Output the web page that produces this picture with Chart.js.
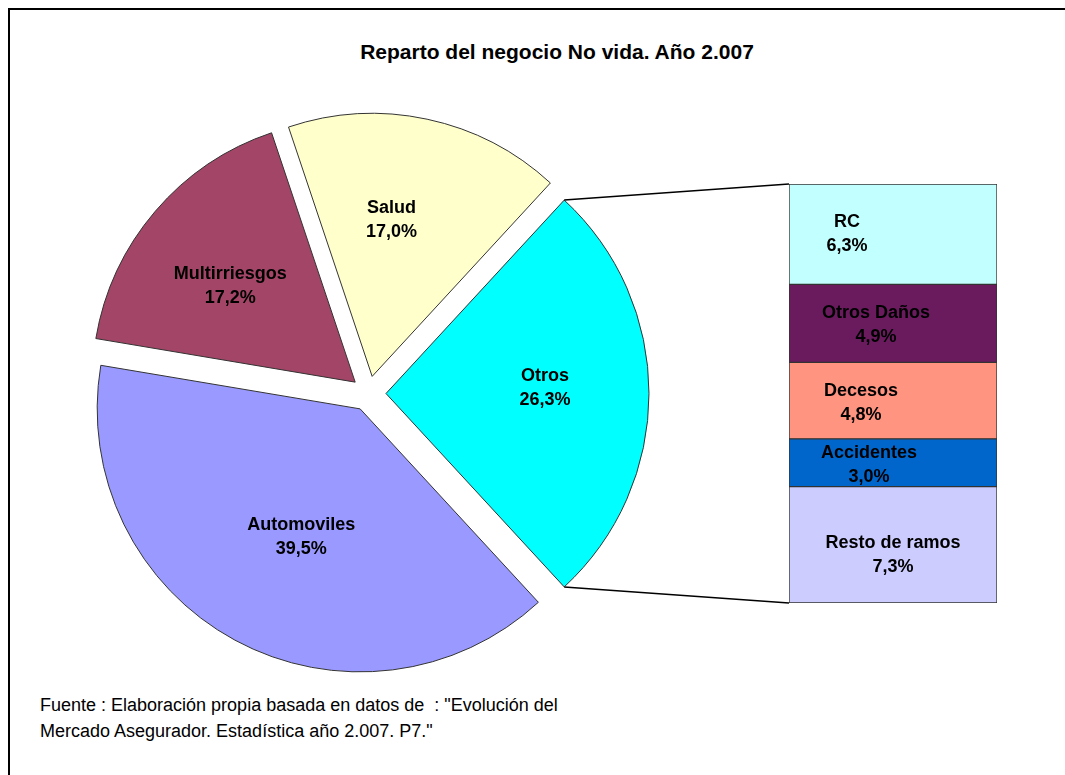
<!DOCTYPE html>
<html>
<head>
<meta charset="utf-8">
<script src="https://cdn.jsdelivr.net/npm/chart.js@4.4.1/dist/chart.umd.min.js"></script>
<style>
  html, body { margin:0; padding:0; background:#fff; width:1065px; height:775px; overflow:hidden; }
  #frame { position:absolute; left:8px; top:8px; width:1120px; height:820px; border-left:2px solid #000; border-top:2px solid #000; }
  #title { position:absolute; left:0; width:1114px; top:40px; text-align:center; font:bold 21px "Liberation Sans", Arial, sans-serif; color:#000; }
  #note { position:absolute; left:40px; top:692px; font:18px "Liberation Sans", Arial, sans-serif; line-height:26px; color:#000; white-space:pre; }
  canvas { position:absolute; left:0; top:0; }
</style>
</head>
<body>
<div id="frame"></div>
<div id="title">Reparto del negocio No vida. Año 2.007</div>
<div id="note">Fuente : Elaboración propia basada en datos de  : "Evolución del
Mercado Asegurador. Estadística año 2.007. P7."</div>
<canvas id="pie" width="1065" height="775"></canvas>
<canvas id="bar" width="1065" height="775"></canvas>
<script>
// ---- data ----
const pieLabels = ['Otros', 'Automoviles', 'Multirriesgos', 'Salud'];
const pieValues = [26.3, 39.5, 17.2, 17.0];
const pieColors = ['#00FFFF', '#9999FF', '#A34566', '#FFFFCC'];

const barLabels = ['RC', 'Otros Daños', 'Decesos', 'Accidentes', 'Resto de ramos'];
const barValues = [6.3, 4.9, 4.8, 3.0, 7.3];
const barColors = ['#C2FFFF', '#6A1B5E', '#FF9480', '#0066CC', '#CCCCFF'];

const FONT = '"Liberation Sans", Arial, sans-serif';
const pct = v => v.toFixed(1).replace('.', ',') + '%';
const EXPLODE = 17.5;

// ---- pie plugins ----
const explodePlugin = {
  id: 'explode',
  afterDatasetsUpdate(chart) {
    chart.getDatasetMeta(0).data.forEach(arc => {
      if (arc._exploded) return;
      arc._exploded = true;
      const orig = arc.draw;
      arc.draw = function (ctx) {
        const mid = (this.startAngle + this.endAngle) / 2;
        ctx.save();
        ctx.translate(Math.cos(mid) * EXPLODE, Math.sin(mid) * EXPLODE);
        orig.call(this, ctx);
        ctx.restore();
      };
    });
  }
};

const pieLabelPlugin = {
  id: 'pieLabels',
  afterDatasetsDraw(chart, args, opts) {
    const ctx = chart.ctx;
    const meta = chart.getDatasetMeta(0);
    ctx.save();
    ctx.font = 'bold 18px ' + FONT;
    ctx.fillStyle = '#000';
    ctx.textAlign = 'center';
    ctx.textBaseline = 'middle';
    meta.data.forEach((arc, i) => {
      const mid = (arc.startAngle + arc.endAngle) / 2;
      const cx = arc.x + Math.cos(mid) * EXPLODE;
      const cy = arc.y + Math.sin(mid) * EXPLODE;
      const a = mid + opts.shift[i] * Math.PI / 180;
      const d = opts.frac[i] * arc.outerRadius;
      const x = cx + Math.cos(a) * d;
      const y = cy + Math.sin(a) * d;
      ctx.fillText(chart.data.labels[i], x, y - 12);
      ctx.fillText(pct(chart.data.datasets[0].data[i]), x, y + 12);
    });
    ctx.restore();
  }
};

const pieChart = new Chart(document.getElementById('pie'), {
  type: 'pie',
  data: {
    labels: pieLabels,
    datasets: [{
      data: pieValues,
      backgroundColor: pieColors,
      borderColor: '#333333',
      borderWidth: 1,
      clip: false
    }]
  },
  options: {
    responsive: false,
    animation: false,
    events: [],
    radius: 263,
    rotation: 90 - pieValues[0] * 3.6 / 2,
    layout: { padding: { left: 68, right: 396, top: 93, bottom: 81 } },
    plugins: {
      legend: { display: false },
      tooltip: { enabled: false },
      pieLabels: { frac: [0.605, 0.535, 0.60, 0.60], shift: [-2, -3.7, -2.8, -5] }
    }
  },
  plugins: [explodePlugin, pieLabelPlugin]
});

// ---- bar plugins ----
const barOrder = barLabels.map((_, i) => i).reverse(); // bottom -> top stacking

const barLabelPlugin = {
  id: 'barLabels',
  afterDatasetsDraw(chart, args, opts) {
    const ctx = chart.ctx;
    ctx.save();
    ctx.font = 'bold 18px ' + FONT;
    ctx.fillStyle = '#000';
    ctx.textAlign = 'center';
    ctx.textBaseline = 'middle';
    chart.data.datasets.forEach((ds, di) => {
      const i = barOrder[di];
      const el = chart.getDatasetMeta(di).data[0];
      const x = el.x + opts.dx[i];
      const y = (el.y + el.base) / 2 + opts.dy[i];
      ctx.fillText(barLabels[i], x, y - 12);
      ctx.fillText(pct(barValues[i]), x, y + 12);
    });
    ctx.restore();
  }
};

const connectorPlugin = {
  id: 'connectors',
  afterDatasetsDraw(chart) {
    const arc = pieChart.getDatasetMeta(0).data[0];
    const mid = (arc.startAngle + arc.endAngle) / 2;
    const cx = arc.x + Math.cos(mid) * EXPLODE;
    const cy = arc.y + Math.sin(mid) * EXPLODE;
    const R = arc.outerRadius;
    const topEl = chart.getDatasetMeta(chart.data.datasets.length - 1).data[0];
    const botEl = chart.getDatasetMeta(0).data[0];
    const left = topEl.x - topEl.width / 2;
    const ctx = chart.ctx;
    ctx.save();
    ctx.strokeStyle = '#000';
    ctx.lineWidth = 1.5;
    ctx.beginPath();
    ctx.moveTo(cx + Math.cos(arc.startAngle) * R, cy + Math.sin(arc.startAngle) * R);
    ctx.lineTo(left, topEl.y);
    ctx.moveTo(cx + Math.cos(arc.endAngle) * R, cy + Math.sin(arc.endAngle) * R);
    ctx.lineTo(left, botEl.base);
    ctx.stroke();
    ctx.restore();
  }
};

new Chart(document.getElementById('bar'), {
  type: 'bar',
  data: {
    labels: [pieLabels[0]],
    datasets: barOrder.map(i => ({
      label: barLabels[i],
      data: [barValues[i]],
      backgroundColor: barColors[i],
      borderColor: '#333333',
      borderWidth: 1,
      borderSkipped: false,
      barPercentage: 1,
      categoryPercentage: 1
    }))
  },
  options: {
    responsive: false,
    animation: false,
    events: [],
    layout: { padding: { left: 789, right: 68, top: 184, bottom: 172 } },
    scales: {
      x: { display: false, stacked: true },
      y: { display: false, stacked: true, min: 0, max: pieValues[0] }
    },
    plugins: {
      legend: { display: false },
      tooltip: { enabled: false },
      barLabels: { dx: [-46, -17, -32, -24, 0], dy: [0, 2, 2, 2, 10] }
    }
  },
  plugins: [connectorPlugin, barLabelPlugin]
});
</script>
</body>
</html>
